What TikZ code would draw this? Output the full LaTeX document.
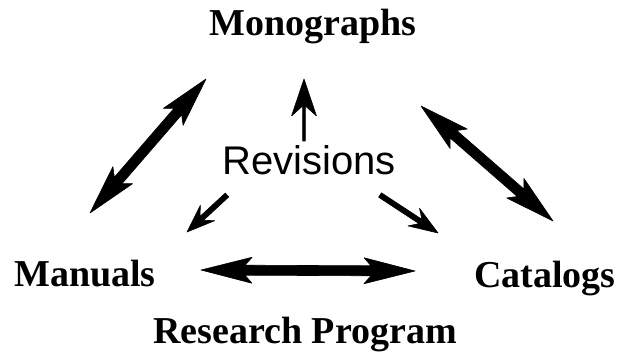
\documentclass[tikz,border=0pt]{standalone}
\usepackage{fontspec}
\setmainfont{Liberation Serif}
\setsansfont{Liberation Sans}
\usetikzlibrary{calc}
\tikzset{
  lbl/.style={anchor=base, inner sep=0pt, font=\fontsize{38}{40}\selectfont\bfseries},
  sanslbl/.style={anchor=base, inner sep=0pt, font=\fontsize{40}{42}\selectfont\sffamily},
  arrowfill/.style={fill=black, draw=black, line width=0.6pt, line join=round}
}
% double-headed arrow: #1 from, #2 to, #3 head length, #4 head half width, #5 notch distance, #6 shaft half width
\newcommand\dblarr[6]{%
  \path ($(#1)!#3!(#2)$) coordinate (p1) ($(#1)!#5!(#2)$) coordinate (p2)
        ($(#2)!#3!(#1)$) coordinate (q1) ($(#2)!#5!(#1)$) coordinate (q2);
  \path[arrowfill] (#1) -- ($(p1)!#4!90:(#2)$) -- ($(p2)!#6!90:(#2)$)
    -- ($(q2)!#6!-90:(#1)$) -- ($(q1)!#4!-90:(#1)$) -- (#2)
    -- ($(q1)!#4!90:(#1)$) -- ($(q2)!#6!90:(#1)$)
    -- ($(p2)!#6!-90:(#2)$) -- ($(p1)!#4!-90:(#2)$) -- cycle;}
% single-headed arrow
\newcommand\onearr[6]{%
  \path ($(#2)!#3!(#1)$) coordinate (q1) ($(#2)!#5!(#1)$) coordinate (q2);
  \path[arrowfill] ($(#1)!#6!90:(#2)$) -- ($(q2)!#6!-90:(#1)$) -- ($(q1)!#4!-90:(#1)$) -- (#2)
    -- ($(q1)!#4!90:(#1)$) -- ($(q2)!#6!90:(#1)$) -- ($(#1)!#6!-90:(#2)$) -- cycle;}
\begin{document}
\begin{tikzpicture}[x=1pt, y=-1pt]
\useasboundingbox (0,0) rectangle (623,355);
\node[lbl] (mono) at (313,36) {Monographs};
\node[lbl] (man) at (85,286) {Manuals};
\node[lbl] (cat) at (545,287) {Catalogs};
\node[lbl] (res) at (305,343) {Research Program};
\node[sanslbl] (rev) at (309,175) {Revisions};
% arrow end points
\coordinate (lA) at (90,213);
\coordinate (lB) at (206,79);
\coordinate (rA) at (421,106);
\coordinate (rB) at (553,221);
\coordinate (hA) at (201,270);
\coordinate (hB) at (415,271);
\coordinate (uA) at (304,141);
\coordinate (uB) at (304,79);
\coordinate (dlA) at (227,195);
\coordinate (dlB) at (187,232);
\coordinate (drA) at (380,195);
\coordinate (drB) at (438,233);
\dblarr{lA}{lB}{50pt}{13pt}{43pt}{5pt}
\dblarr{rA}{rB}{50pt}{13pt}{43pt}{5pt}
\dblarr{hA}{hB}{51pt}{13pt}{44pt}{5pt}
\onearr{uA}{uB}{37pt}{12.5pt}{27pt}{1.4pt}
\onearr{dlA}{dlB}{28pt}{10.5pt}{20pt}{2.6pt}
\onearr{drA}{drB}{29pt}{10.5pt}{21pt}{2.6pt}
\end{tikzpicture}
\end{document}
